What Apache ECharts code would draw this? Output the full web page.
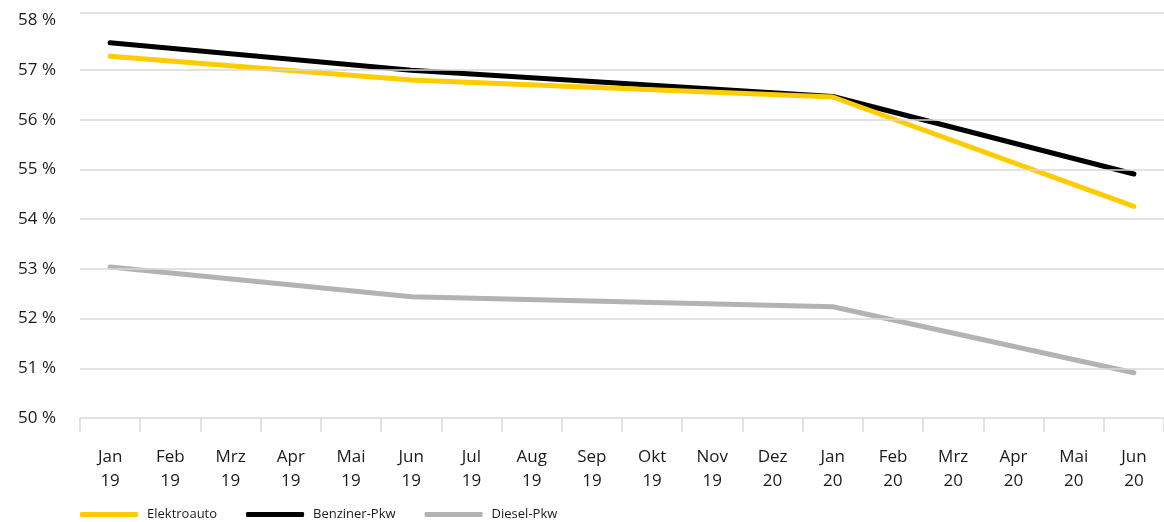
<!DOCTYPE html>
<html>
<head>
<meta charset="utf-8">
<script src="https://cdn.jsdelivr.net/npm/echarts@6/dist/echarts.min.js"></script>
<style>
  html, body { margin: 0; padding: 0; background: #fff; }
  #chart { width: 1164px; height: 522px; }
</style>
</head>
<body>
<div id="chart"></div>
<script>
// Monate (Kategorien), Beschriftung wie im Original
const categories = [
  "Jan\n19", "Feb\n19", "Mrz\n19", "Apr\n19", "Mai\n19", "Jun\n19",
  "Jul\n19", "Aug\n19", "Sep\n19", "Okt\n19", "Nov\n19", "Dez\n20",
  "Jan\n20", "Feb\n20", "Mrz\n20", "Apr\n20", "Mai\n20", "Jun\n20"
];
// Werte nur an den Stützpunkten, dazwischen null (Linie wird verbunden)
const elektro = [57.28, null, null, null, null, 56.8, null, null, null, null, null, null, 56.46, null, null, null, null, 54.26];
const benzin  = [57.55, null, null, null, null, 57.0, null, null, null, null, null, null, 56.47, null, null, null, null, 54.91];
const diesel  = [53.04, null, null, null, null, 52.44, null, null, null, null, null, null, 52.24, null, null, null, null, 50.91];
// Gitterlinien (50 % ist die Achse)
const gridValues = [51, 52, 53, 54, 55, 56, 57, 58.15];

const font = "'Open Sans', 'Noto Sans', sans-serif";
const chart = echarts.init(document.getElementById("chart"));

chart.setOption({
  backgroundColor: "#fff",
  animation: false,
  grid: { left: 80, right: 0, top: 13, bottom: 104 },
  legend: {
    data: ["Elektroauto", "Benziner-Pkw", "Diesel-Pkw"],
    left: 80,
    top: 508,
    padding: 0,
    icon: "roundRect",
    itemWidth: 58,
    itemHeight: 5,
    itemGap: 29,
    textStyle: { fontFamily: font, fontSize: 13, color: "#1a1a1a", padding: [0, 0, 0, 4] }
  },
  xAxis: {
    type: "category",
    data: categories,
    boundaryGap: true,
    axisLine: { lineStyle: { color: "#d9d9d9", width: 1.5 } },
    axisTick: { show: true, length: 14, interval: 0, lineStyle: { color: "#d9d9d9", width: 1.5 } },
    axisLabel: {
      interval: 0,
      margin: 27,
      fontFamily: font,
      fontSize: 17,
      lineHeight: 24,
      color: "#1a1a1a"
    }
  },
  yAxis: {
    type: "value",
    min: 50,
    max: 58.15,
    interval: 1,
    axisLine: { show: false },
    axisTick: { show: false },
    splitLine: { show: false },
    axisLabel: {
      margin: 24,
      fontFamily: font,
      fontSize: 17,
      color: "#1a1a1a",
      formatter: function (v) {
        return Number.isInteger(v) ? v + " %" : "";
      }
    }
  },
  series: [
    {
      type: "line",
      data: [],
      z: 1,
      silent: true,
      markLine: {
        silent: true,
        symbol: "none",
        label: { show: false },
        lineStyle: { color: "#d9d9d9", width: 1.5, type: "solid" },
        data: gridValues.map(v => ({ yAxis: v }))
      }
    },
    {
      name: "Elektroauto",
      type: "line",
      data: elektro,
      connectNulls: true,
      symbol: "none",
      z: 4,
      lineStyle: { width: 5, color: "#ffcc00", cap: "round", join: "round" },
      itemStyle: { color: "#ffcc00" }
    },
    {
      name: "Benziner-Pkw",
      type: "line",
      data: benzin,
      connectNulls: true,
      symbol: "none",
      z: 3,
      lineStyle: { width: 5, color: "#000", cap: "round", join: "round" },
      itemStyle: { color: "#000" }
    },
    {
      name: "Diesel-Pkw",
      type: "line",
      data: diesel,
      connectNulls: true,
      symbol: "none",
      z: 3,
      lineStyle: { width: 5, color: "#b3b3b3", cap: "round", join: "round" },
      itemStyle: { color: "#b3b3b3" }
    }
  ]
});
</script>
</body>
</html>
